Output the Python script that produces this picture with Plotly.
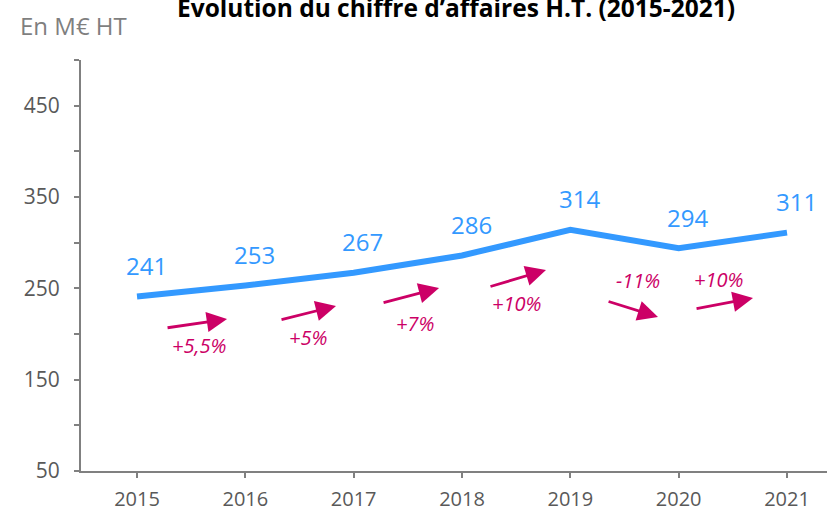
import plotly.graph_objects as go

years = [2015, 2016, 2017, 2018, 2019, 2020, 2021]
revenue = [241, 253, 267, 286, 314, 294, 311]

# growth annotations between consecutive years
growth_labels = ["+5,5%", "+5%", "+7%", "+10%", "-11%", "+10%"]
arrow_start_x = [2015.268, 2016.320, 2017.262, 2018.249, 2019.339, 2020.151]
arrow_start_y = [206.6, 215.3, 234.0, 251.5, 236.1, 227.4]
arrow_end_x = [2015.831, 2016.837, 2017.788, 2018.775, 2019.809, 2020.686]
arrow_end_y = [216.4, 230.7, 250.4, 270.1, 218.6, 239.4]
label_x = [2015.572, 2016.579, 2017.566, 2018.499, 2019.625, 2020.363]
label_y = [186.9, 196.7, 212.0, 232.9, 259.1, 260.2]

y_ticks = [50, 100, 150, 200, 250, 300, 350, 400, 450, 500]
y_ticktext = ["50", "", "150", "", "250", "", "350", "", "450", ""]

BLUE = "#3399FF"
MAG = "#CC0066"
GRAY_TXT = "#595959"
AXIS = "#808080"
FONT = "Open Sans"

fig = go.Figure()
fig.add_trace(go.Scatter(
    x=years, y=revenue, mode="lines",
    line=dict(color=BLUE, width=6),
    hoverinfo="skip", showlegend=False,
))

annotations = []
for x, v in zip(years, revenue):
    annotations.append(dict(
        x=x, y=v, xref="x", yref="y", text=str(v), showarrow=False,
        xshift=9, yshift=31, font=dict(family=FONT, size=24, color=BLUE),
    ))

for i in range(len(growth_labels)):
    annotations.append(dict(
        x=arrow_end_x[i], y=arrow_end_y[i], ax=arrow_start_x[i], ay=arrow_start_y[i],
        xref="x", yref="y", axref="x", ayref="y", text="", showarrow=True,
        arrowhead=2, arrowsize=1.45, arrowwidth=2.8, arrowcolor=MAG, standoff=0,
    ))
    annotations.append(dict(
        x=label_x[i], y=label_y[i], xref="x", yref="y", text="<i>" + growth_labels[i] + "</i>",
        showarrow=False, font=dict(family=FONT, size=20, color=MAG),
    ))

annotations.append(dict(
    x=(456 - 81) / 746, y=1 + (60 - 8) / 411, xref="paper", yref="paper",
    xanchor="center", yanchor="middle",
    text="<b>Évolution du chiffre d’affaires H.T. (2015-2021)</b>", showarrow=False,
    font=dict(family=FONT, size=24.5, color="#000000"),
))
annotations.append(dict(
    x=(18 - 81) / 746, y=1 + (60 - 25) / 411, xref="paper", yref="paper",
    xanchor="left", yanchor="middle",
    text="En M€ HT", showarrow=False,
    font=dict(family=FONT, size=24, color="#7F7F7F"),
))

fig.update_layout(
    width=827, height=511,
    margin=dict(l=81, r=0, t=60, b=40),
    plot_bgcolor="white", paper_bgcolor="white",
    annotations=annotations,
    xaxis=dict(
        range=[2014.483, 2021.369], tickvals=years, ticktext=[str(y) for y in years],
        showgrid=False, zeroline=False, showline=True, linecolor=AXIS, linewidth=2,
        ticks="outside", ticklen=5, tickcolor=AXIS, tickwidth=1.5,
        ticklabelstandoff=4, automargin=False,
        tickfont=dict(family=FONT, size=20, color=GRAY_TXT),
    ),
    yaxis=dict(
        range=[50, 500], tickvals=y_ticks, ticktext=y_ticktext,
        showgrid=False, zeroline=False, showline=True, linecolor=AXIS, linewidth=2,
        ticks="outside", ticklen=5, tickcolor=AXIS, tickwidth=1.5,
        ticklabelstandoff=10, automargin=False,
        tickfont=dict(family=FONT, size=21, color=GRAY_TXT),
    ),
)

fig.write_html("out.html", config={"displayModeBar": False},
               post_script="document.body.style.margin='0';")
